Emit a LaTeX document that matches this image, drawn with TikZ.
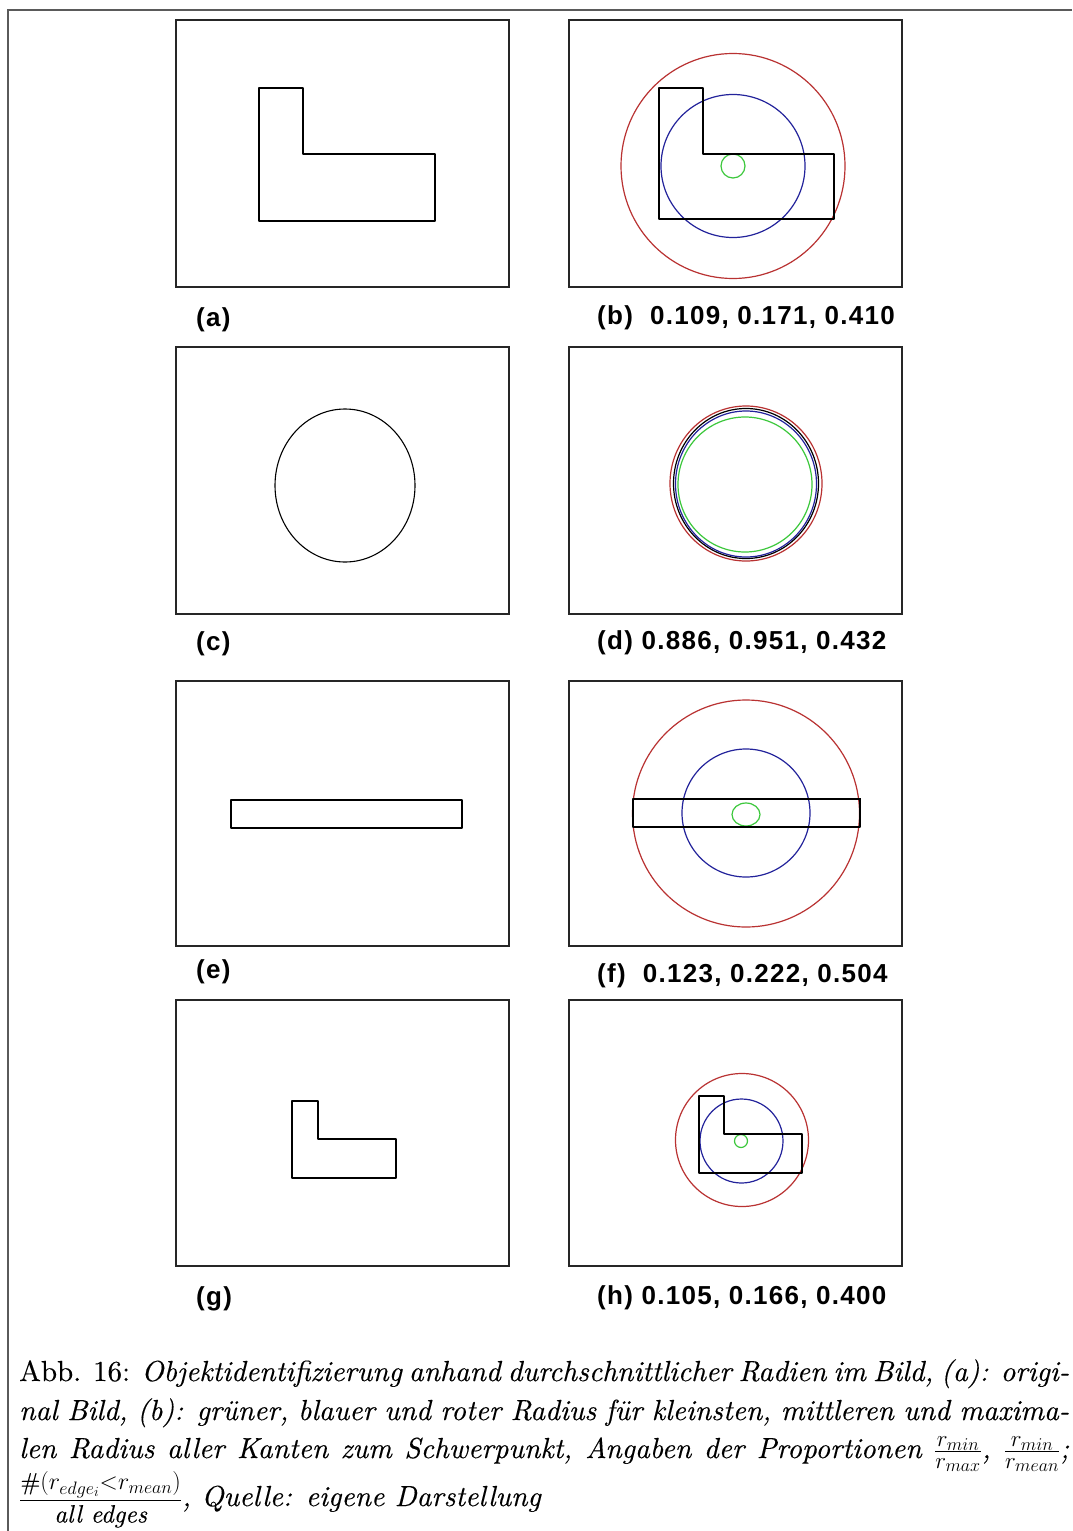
\RequirePackage{fix-cm}
\documentclass[tikz,border=0pt]{standalone}
\usepackage{fontspec}
\setmainfont{lmroman10}[Extension=.otf, UprightFont=*-regular, ItalicFont=*-italic, BoldFont=*-bold, BoldItalicFont=*-bolditalic, UprightFeatures={FakeBold=0.3}, ItalicFeatures={FakeBold=0.3}]
\newfontfamily\lblfont{Liberation Sans}[LetterSpace=5]
\DeclareMathSizes{29}{29}{23}{18}
\DeclareMathSizes{24}{24}{18}{14}
\definecolor{rcol}{RGB}{185,50,50}
\definecolor{bcol}{RGB}{35,35,155}
\definecolor{gcol}{RGB}{60,200,60}
\definecolor{outerline}{RGB}{90,90,90}
\tikzset{
  panel/.style={draw=black!85, line width=1.8pt},
  shapeline/.style={draw=black, line width=1.2pt, line join=round},
  thickedge/.style={draw=black, line width=2.6pt},
  rcirc/.style={draw=rcol, line width=1.2pt},
  bcirc/.style={draw=bcol, line width=1.2pt},
  gcirc/.style={draw=gcol, line width=1.2pt},
  lbl/.style={font=\lblfont\bfseries\fontsize{26}{30}\selectfont, inner sep=0pt, anchor=west},
  captext/.style={font=\fontsize{29}{39}\selectfont, inner sep=0pt, anchor=base west}
}
\begin{document}
\begin{tikzpicture}[x=1pt,y=-1pt]
\useasboundingbox (0,0) rectangle (1072,1531);
\fill[white] (0,0) rectangle (1072,1531);
% outer frame
\draw[outerline, line width=1.8pt] (8,1531) -- (8,10) -- (1072,10);

% panel frames
\draw[panel] (176,20) rectangle (509,287);
\draw[panel] (569,20) rectangle (902,287);
\draw[panel] (176,347) rectangle (509,614);
\draw[panel] (569,347) rectangle (902,614);
\draw[panel] (176,681) rectangle (509,946);
\draw[panel] (569,681) rectangle (902,946);
\draw[panel] (176,1000) rectangle (509,1266);
\draw[panel] (569,1000) rectangle (902,1266);

% (a)
\draw[shapeline] (259,88) -- (303,88) -- (303,154) -- (435,154) -- (435,221) -- (259,221) -- cycle;
% (b)
\draw[rcirc] (733,166) circle[x radius=112, y radius=112.5];
\draw[bcirc] (733,166) circle[x radius=72, y radius=71.5];
\draw[gcirc] (733,166) circle[radius=12];
\draw[shapeline, line width=1.6pt] (659,88) -- (703,88) -- (703,154) -- (834,154) -- (834,219) -- (659,219) -- cycle;
\draw[thickedge] (703,89) -- (703,154);

% (c)
\draw[shapeline, line width=1.1pt] (345,485.5) circle[x radius=70, y radius=76.5];
% (d)
\draw[rcirc] (746,483.5) circle[x radius=76, y radius=77.5];
\draw[shapeline, line width=1.2pt] (746,483.5) circle[x radius=72.5, y radius=75];
\draw[bcirc] (746,484) circle[x radius=70.5, y radius=73];
\draw[gcirc] (745,484.5) circle[x radius=67, y radius=67.5];

% (e)
\draw[shapeline] (231,800) rectangle (462,828);
% (f)
\draw[rcirc] (746,813.5) circle[radius=113.5];
\draw[bcirc] (746,813) circle[radius=64];
\draw[gcirc] (746,814.5) circle[x radius=14, y radius=11.5];
\draw[shapeline] (633,799) rectangle (860,827);
\draw[thickedge] (633,799) -- (860,799) -- (860,827);

% (g)
\draw[shapeline] (292,1101) -- (318,1101) -- (318,1139) -- (396,1139) -- (396,1178) -- (292,1178) -- cycle;
% (h)
\draw[rcirc] (742,1140) circle[x radius=66.5, y radius=66.5];
\draw[bcirc] (741.5,1141) circle[x radius=41.5, y radius=42];
\draw[gcirc] (741,1141) circle[radius=6.5];
\draw[shapeline, line width=1.8pt] (699,1096) -- (724,1096) -- (724,1134) -- (802,1134) -- (802,1173) -- (699,1173) -- cycle;

% labels
\node[lbl] (la) at (196,320) {(a)};
\node[lbl] (lb) at (597,318) {(b)\ \ 0.109, 0.171, 0.410};
\node[lbl] (lc) at (196,644) {(c)};
\node[lbl] (ld) at (597,643) {(d) 0.886, 0.951, 0.432};
\node[lbl] (le) at (196,972) {(e)};
\node[lbl] (lf) at (597,976) {(f)\ \ 0.123, 0.222, 0.504};
\node[lbl] (lg) at (196,1299) {(g)};
\node[lbl] (lh) at (597,1298) {(h) 0.105, 0.166, 0.400};

% caption
\node[captext] (cap1) at (19,1381) {\makebox[1050pt][s]{Abb. 16: \textit{Objektidentifizierung anhand durchschnittlicher Radien im Bild, (a): origi-}}};
\node[captext] (cap2) at (19,1420) {\makebox[1050pt][s]{\itshape nal Bild, (b): grüner, blauer und roter Radius für kleinsten, mittleren und maxima-}};
\node[captext] (cap3) at (19,1458) {\makebox[1050pt][s]{\itshape len Radius aller Kanten zum Schwerpunkt, Angaben der Proportionen $\frac{r_{min}}{r_{max}}$, $\frac{r_{min}}{r_{mean}}$;}};
\node[captext] (cap4) at (19,1506) {\itshape {\fontsize{24}{24}\selectfont$\displaystyle\frac{\#(r_{edge_i}{<}r_{mean})}{\mbox{\fontsize{25}{25}\selectfont\itshape all edges}}$}, Quelle: eigene Darstellung};
\end{tikzpicture}
\end{document}
